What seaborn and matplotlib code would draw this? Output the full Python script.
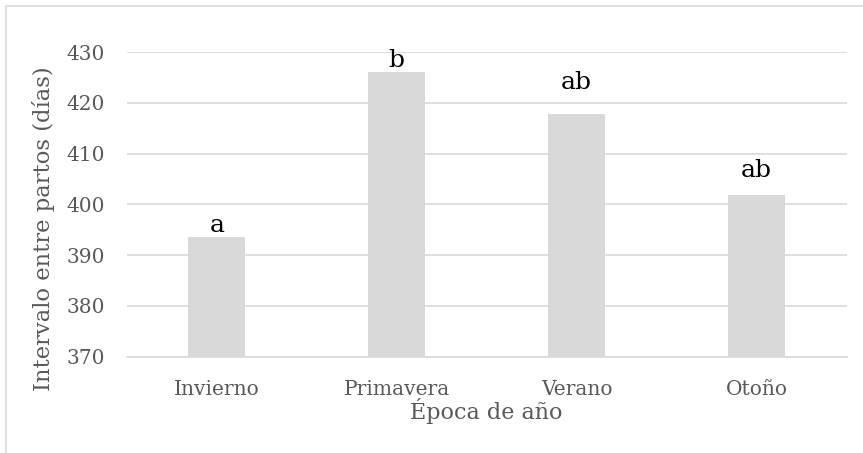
import matplotlib
matplotlib.use("Agg")
import matplotlib.pyplot as plt
import seaborn as sns
import pandas as pd
from matplotlib.patches import Rectangle

# data
epocas = ["Invierno", "Primavera", "Verano", "Otoño"]
intervalo = [393.6, 426.0, 417.7, 401.8]
letras = ["a", "b", "ab", "ab"]
letra_offset = [1.0, 1.0, 5.1, 3.5]

df = pd.DataFrame({"epoca": epocas, "intervalo": intervalo})

sns.set_style("white")
plt.rcParams["font.family"] = ["DejaVu Serif"]

fig = plt.figure(figsize=(8.63, 4.53), dpi=100)
ax = fig.add_axes([0.147, 0.2126, 0.834, 0.6726])

sns.barplot(df, x="epoca", y="intervalo", color="#d9d9d9", width=0.317,
            saturation=1, linewidth=0, ax=ax, zorder=3)

ax.set_ylim(370, 430)
ax.set_yticks(range(370, 431, 10))
ax.grid(axis="y", color="#d9d9d9", linewidth=1.2, zorder=0)
for s in ["top", "right", "left"]:
    ax.spines[s].set_visible(False)
ax.spines["bottom"].set_color("#d9d9d9")
ax.spines["bottom"].set_linewidth(1.2)
ax.tick_params(axis="both", length=0, labelsize=14.5, labelcolor="#595959")
ax.tick_params(axis="y", pad=16)
ax.tick_params(axis="x", pad=17)

for i, (v, l, o) in enumerate(zip(intervalo, letras, letra_offset)):
    ax.text(i, v + o, l, ha="center", va="baseline", fontsize=18, color="black")

ax.set_xlabel("")
ax.set_ylabel("")
fig.text(0.564, 0.092, "Época de año", ha="center", va="center",
         fontsize=16, color="#595959")
fig.text(0.05, 0.495, "Intervalo entre partos (días)", ha="center", va="center",
         rotation=90, fontsize=16.3, color="#595959")

# chart area border (cropped at right/bottom)
fig.patches.append(Rectangle((6 / 863, -0.1), 1.2, 1 - 6 / 453 + 0.1,
                             transform=fig.transFigure, fill=False,
                             edgecolor="#d9d9d9", linewidth=1.2))

fig.savefig("out.png", dpi=100)
